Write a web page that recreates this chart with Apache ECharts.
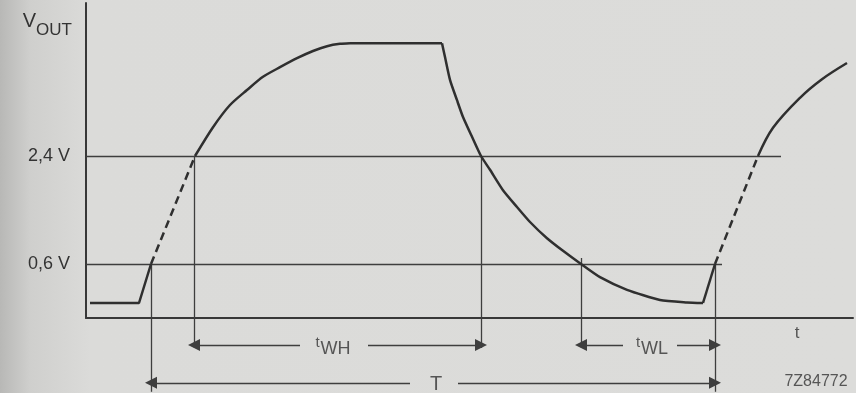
<!DOCTYPE html>
<html>
<head>
<meta charset="utf-8">
<script src="https://cdn.jsdelivr.net/npm/echarts@6/dist/echarts.min.js"></script>
<style>
  html, body { margin: 0; padding: 0; }
  #chart {
    width: 856px;
    height: 393px;
    background: linear-gradient(to right, #b8b8b6 0px, #cfcfcd 30px, #dbdbd9 90px, #dcdcda 100%);
  }
</style>
</head>
<body>
<div id="chart"></div>
<script>
// time in arbitrary units, voltage in V
const lowStart = [[0.4, -0.05], [5.3, -0.05], [6.5, 0.6]];
const dashRise1 = [[6.5, 0.6], [10.9, 2.4]];
const charge1 = [[10.9, 2.4], [12.7, 2.88], [14.4, 3.25], [16.1, 3.5], [17.7, 3.72], [19.4, 3.88], [21.1, 4.03], [22.7, 4.15], [24.1, 4.23], [25.4, 4.27], [26.4, 4.28]];
const plateau = [[26.4, 4.28], [35.6, 4.28]];
const discharge = [[35.6, 4.28], [35.9, 4.05], [36.4, 3.67], [37.1, 3.33], [37.7, 3.05], [38.6, 2.72], [39.5, 2.4], [40.4, 2.17], [41.7, 1.83], [43.1, 1.55], [44.4, 1.3], [46.1, 1.03], [47.7, 0.82], [49.5, 0.6], [51.4, 0.38], [54.1, 0.17], [57.4, 0.0], [60.1, -0.04], [61.7, -0.05]];
const lowRise2 = [[61.7, -0.05], [62.9, 0.6]];
const dashRise2 = [[62.9, 0.6], [67.2, 2.4]];
const charge2 = [[67.2, 2.4], [68.7, 2.87], [71.4, 3.37], [73.6, 3.68], [76.1, 3.95]];

const levels = [2.4, 0.6];
const levelLabels = ['2,4 V', '0,6 V'];
const levelEnds = [69.5, 63.6];

// vertical timing markers: [x, top V, bottom V]
const markers = [[10.8, 2.4, -0.8], [6.5, 0.6, -1.53], [39.5, 2.4, -0.8], [49.5, 0.7, -0.8], [62.9, 0.6, -1.53]];

// dimension arrows: [from, to, y, arrowAt]
const arrows = [
  [10.8, 21.4, -0.75, 'start'], [28.2, 39.5, -0.75, 'end'],
  [49.5, 53.7, -0.75, 'start'], [59.1, 62.9, -0.75, 'end'],
  [6.5, 32.4, -1.38, 'start'], [37.2, 62.9, -1.38, 'end']
];

const chart = echarts.init(document.getElementById('chart'));

const curveColor = '#2f2f2f';
const thinColor = '#3e3e3e';
const font = '"Liberation Sans", Arial, sans-serif';

function curve(data, opts) {
  return Object.assign({
    type: 'line',
    data: data,
    symbol: 'none',
    clip: false,
    lineStyle: { color: curveColor, width: 2.5 },
    z: 5
  }, opts || {});
}

const refLines = [];
levels.forEach((v, i) => {
  refLines.push({ coords: [[0, v], [levelEnds[i], v]], label: levelLabels[i] });
});
markers.forEach(m => {
  refLines.push({ coords: [[m[0], m[1]], [m[0], m[2]]] });
});

const arrowLines = arrows.map(a => ({
  coords: [[a[0], a[2]], [a[1], a[2]]],
  symbol: a[3] === 'start' ? ['triangle', 'none'] : ['none', 'triangle']
}));

const notes = [
  { value: [24.7, -0.78], text: '{s|t}{b|WH}' },
  { value: [56.6, -0.78], text: '{s|t}{b|WL}' },
  { value: [35.0, -1.4], text: '{T|T}' },
  { value: [71.1, -0.55], text: '{t|t}' },
  { value: [73.0, -1.36], text: '{c|7Z84772}' }
];

const option = {
  animation: false,
  backgroundColor: 'transparent',
  grid: { left: 86, right: 3, top: 3, bottom: 75 },
  xAxis: {
    type: 'value',
    min: 0,
    max: 76.7,
    axisLine: { show: true, onZero: false, lineStyle: { color: '#383838', width: 2 } },
    axisTick: { show: false },
    axisLabel: { show: false },
    splitLine: { show: false }
  },
  yAxis: {
    type: 'value',
    min: -0.3,
    max: 4.95,
    name: '{v|V}{o|OUT}',
    nameLocation: 'end',
    nameGap: -22,
    nameTextStyle: {
      align: 'right',
      verticalAlign: 'middle',
      padding: [0, 14, 0, 0],
      rich: {
        v: { fontFamily: font, fontSize: 20, color: '#333', verticalAlign: 'bottom', padding: [0, 0, 8, 0] },
        o: { fontFamily: font, fontSize: 17, color: '#333', verticalAlign: 'bottom' }
      }
    },
    axisLine: { show: true, onZero: false, lineStyle: { color: '#383838', width: 2 } },
    axisTick: { show: false },
    axisLabel: { show: false },
    splitLine: { show: false }
  },
  series: [
    curve(lowStart),
    curve(dashRise1, { lineStyle: { color: curveColor, width: 2.5, type: [8, 5] } }),
    curve(charge1, { smooth: 0.25 }),
    curve(plateau),
    curve(discharge, { smooth: 0.2 }),
    curve(lowRise2),
    curve(dashRise2, { lineStyle: { color: curveColor, width: 2.5, type: [8, 5] } }),
    curve(charge2, { smooth: 0.35 }),
    {
      type: 'lines',
      coordinateSystem: 'cartesian2d',
      clip: false,
      symbol: 'none',
      lineStyle: { color: thinColor, width: 1.3, opacity: 1 },
      label: {
        show: true,
        position: 'start',
        distance: 16,
        fontFamily: font,
        fontSize: 18,
        color: '#333',
        formatter: p => p.data.label || ''
      },
      data: refLines,
      z: 3
    },
    {
      type: 'lines',
      coordinateSystem: 'cartesian2d',
      clip: false,
      symbolSize: 12,
      lineStyle: { color: thinColor, width: 1.3, opacity: 1 },
      itemStyle: { color: thinColor },
      data: arrowLines,
      z: 3
    },
    {
      type: 'scatter',
      clip: false,
      symbolSize: 0,
      silent: true,
      data: notes.map(n => ({ value: n.value, text: n.text })),
      label: {
        show: true,
        position: 'inside',
        formatter: p => p.data.text,
        rich: {
          s: { fontFamily: font, fontSize: 15, color: '#333', verticalAlign: 'bottom', padding: [0, 1, 7, 0] },
          b: { fontFamily: font, fontSize: 18, color: '#333', verticalAlign: 'bottom' },
          t: { fontFamily: font, fontSize: 17, color: '#333' },
          T: { fontFamily: font, fontSize: 20, color: '#333' },
          c: { fontFamily: font, fontSize: 16, color: '#333' }
        }
      },
      z: 6
    }
  ]
};

chart.setOption(option);
</script>
</body>
</html>
